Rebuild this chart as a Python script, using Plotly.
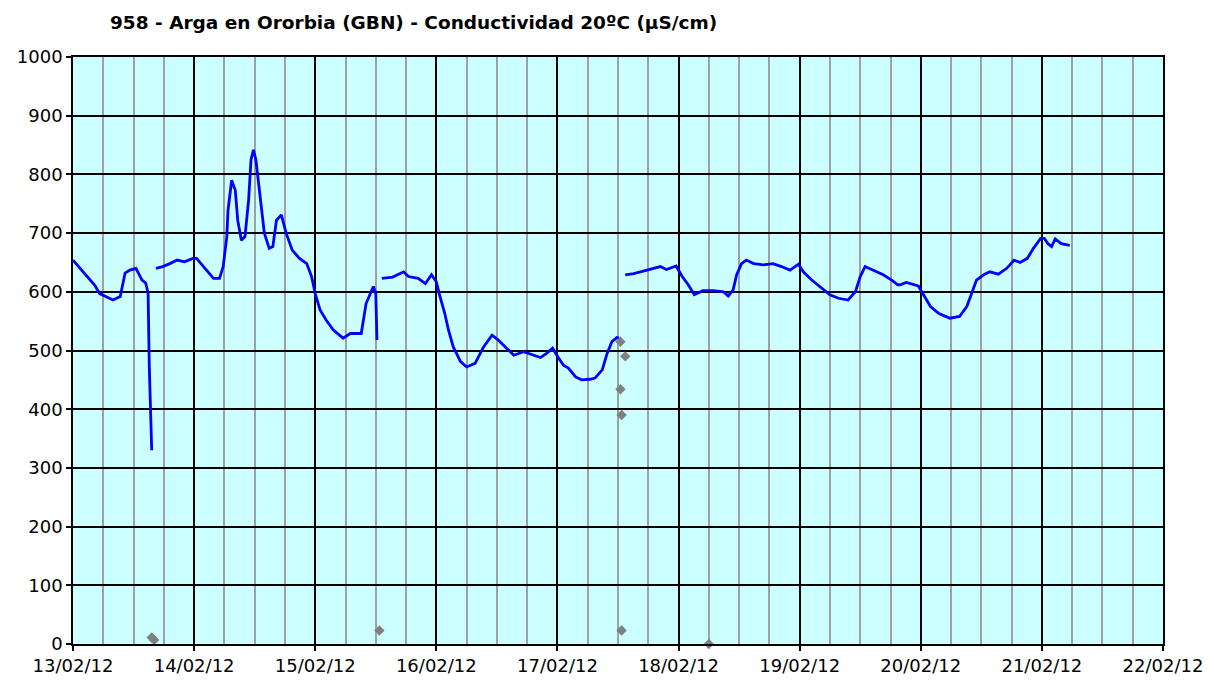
import pandas as pd
import plotly.graph_objects as go

BASE = pd.Timestamp("2012-02-13 00:00")

# Conductivity series: time (days since 13/02/12 00:00) and value (µS/cm); None = gap
cond_days = [
    0.00, 0.18, 0.22, 0.33, 0.39, 0.43, 0.47, 0.52, 0.57, 0.60, 0.62, 0.63, 0.65,
    0.67,
    0.685, 0.74, 0.80, 0.86, 0.92, 0.99, 1.02, 1.08, 1.16, 1.21, 1.24, 1.27, 1.28,
    1.31, 1.34, 1.36, 1.39, 1.42, 1.45, 1.47, 1.49, 1.51, 1.54, 1.58, 1.62, 1.65,
    1.68, 1.72, 1.76, 1.81, 1.87, 1.90, 1.93, 1.97, 2.00, 2.04, 2.09, 2.15, 2.23,
    2.29, 2.38, 2.42, 2.48, 2.50, 2.51,
    2.53,
    2.55, 2.64, 2.73, 2.77, 2.85, 2.91, 2.96, 3.00, 3.03, 3.07, 3.10, 3.14, 3.20,
    3.25, 3.32, 3.39, 3.46, 3.51, 3.58, 3.64, 3.72, 3.80, 3.86, 3.91, 3.96, 4.01,
    4.05, 4.09, 4.15, 4.20, 4.27, 4.31, 4.37, 4.41, 4.45, 4.49, 4.51,
    4.535,
    4.56, 4.63, 4.74, 4.85, 4.90, 4.98, 5.03, 5.08, 5.13, 5.20, 5.29, 5.37, 5.41,
    5.45, 5.48, 5.52, 5.56, 5.62, 5.70, 5.78, 5.85, 5.92, 5.99, 6.03, 6.10, 6.17,
    6.25, 6.32, 6.40, 6.46, 6.50, 6.54, 6.61, 6.69, 6.76, 6.81, 6.83, 6.88, 6.98,
    7.02, 7.08, 7.15, 7.24, 7.32, 7.38, 7.42, 7.46, 7.52, 7.57, 7.64, 7.71, 7.77,
    7.82, 7.88, 7.93, 7.99, 8.02, 8.05, 8.08, 8.11, 8.16, 8.23,
]
cond_vals = [
    654, 611, 597, 586, 592, 632, 637, 640, 620, 615, 598, 472, 330,
    None,
    640, 643, 648, 654, 651, 657, 657, 643, 623, 623, 643, 694, 739,
    790, 773, 722, 688, 694, 756, 825, 842, 825, 768, 700, 674, 677,
    722, 731, 700, 671, 657, 652, 648, 626, 597, 569, 552, 535, 521,
    529, 529, 580, 609, 597, 518,
    None,
    623, 625, 634, 626, 623, 614, 629, 617, 592, 563, 535, 506, 481,
    472, 478, 506, 526, 518, 504, 492, 498, 492, 488, 495, 504, 487,
    475, 470, 455, 450, 451, 453, 467, 495, 515, 522, 521,
    None,
    629, 631, 637, 643, 638, 644, 626, 612, 595, 602, 602, 600, 593,
    603, 629, 648, 654, 648, 646, 648, 643, 637, 647, 634, 620, 609,
    595, 589, 586, 600, 626, 643, 637, 629, 620, 612, 612, 616, 610,
    595, 575, 563, 555, 558, 575, 597, 620, 629, 634, 630, 640, 654,
    650, 657, 674, 691, 691, 682, 677, 690, 682, 679,
]

# Secondary point series (grey diamonds)
pts_days = [0.65, 0.67, 2.53, 4.52, 4.56, 4.52, 4.53, 4.53, 5.25]
pts_vals = [11, 7, 23, 515, 490, 434, 390, 23, 0]

TITLE = "958 - Arga en Ororbia (GBN) - Conductividad 20ºC (µS/cm)"

cond_x = [BASE + pd.Timedelta(days=d) for d in cond_days]
pts_x = [BASE + pd.Timedelta(days=d) for d in pts_days]

fig = go.Figure()
fig.add_trace(go.Scatter(
    x=cond_x, y=cond_vals, mode="lines",
    line=dict(color="#0000FF", width=2.8),
    connectgaps=False, showlegend=False, hoverinfo="x+y",
))
fig.add_trace(go.Scatter(
    x=pts_x, y=pts_vals, mode="markers",
    marker=dict(symbol="diamond", color="#808080", size=8),
    showlegend=False, cliponaxis=False,
))

font = "DejaVu Sans, Verdana, sans-serif"
fig.update_layout(
    width=1209, height=680,
    margin=dict(l=73, r=46, t=57, b=36, autoexpand=False),
    paper_bgcolor="white", plot_bgcolor="#CCFFFF",
    title=dict(text="<b>" + TITLE + "</b>", x=110 / 1209, xanchor="left",
               y=1 - 23 / 680, yanchor="middle",
               font=dict(family=font, size=18.5, color="black")),
    font=dict(family=font, size=18, color="black"),
    xaxis=dict(
        type="date",
        range=[BASE, BASE + pd.Timedelta(days=9)],
        dtick=86400000, tick0=BASE,
        tickformat="%d/%m/%y",
        showgrid=True, gridcolor="black", gridwidth=1.5,
        minor=dict(dtick=6 * 3600000, tick0=BASE, showgrid=True,
                   gridcolor="#A0A0A0", gridwidth=2, ticks=""),
        ticks="outside", ticklen=5, tickcolor="black", tickwidth=1.5,
        showline=True, linecolor="black", linewidth=1.5, mirror=True,
        zeroline=False,
        tickfont=dict(family=font, size=18),
    ),
    yaxis=dict(
        range=[0, 1000], dtick=100,
        showgrid=True, gridcolor="black", gridwidth=1.5,
        ticks="outside", ticklen=5, tickcolor="black", tickwidth=1.5,
        showline=True, linecolor="black", linewidth=1.5, mirror=True,
        zeroline=False,
        tickfont=dict(family=font, size=18),
    ),
)

fig.write_html("out.html", config={"displayModeBar": False},
               post_script="document.body.style.margin='0';document.body.style.overflow='hidden';")
